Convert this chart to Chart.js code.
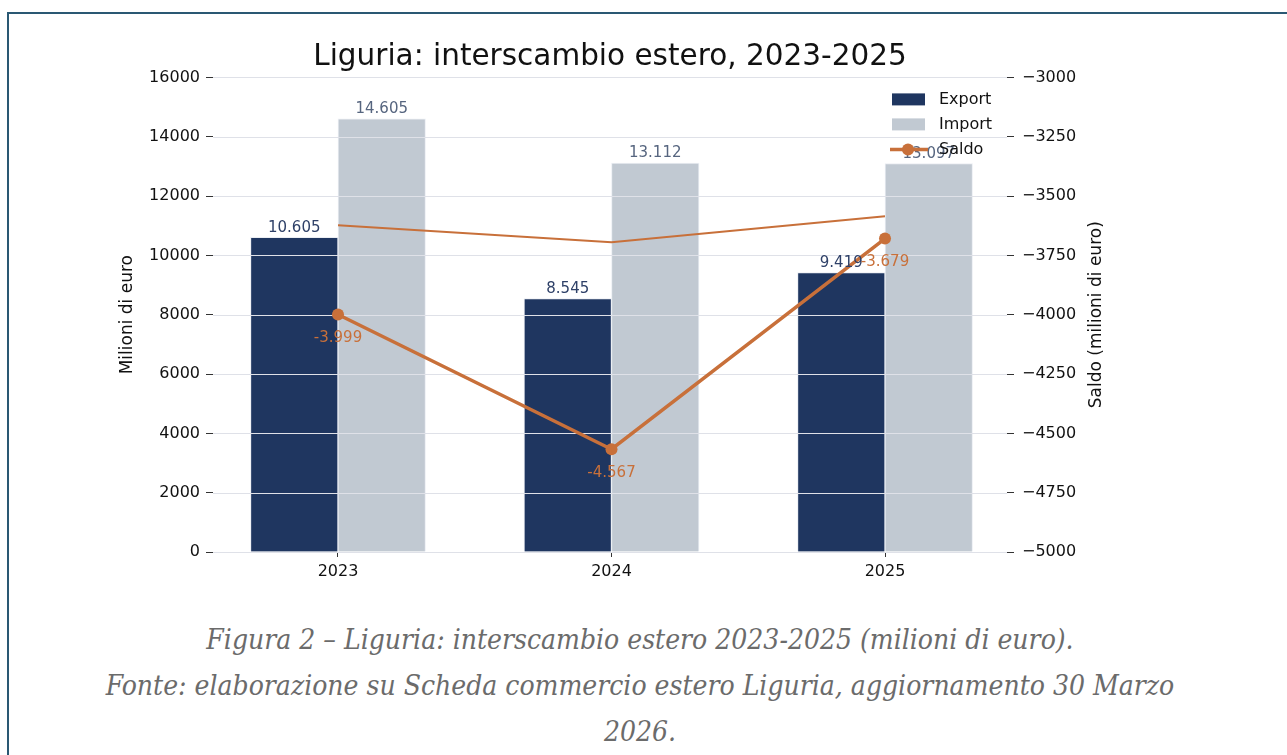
<!DOCTYPE html>
<html>
<head>
<meta charset="utf-8">
<script src="https://cdn.jsdelivr.net/npm/chart.js@4/dist/chart.umd.min.js"></script>
<style>
    body { margin: 0; background: #fff; }
    #frame {
        position: absolute; left: 7px; top: 12px; right: -10px; height: 760px;
        border-top: 2px solid #2a5873; border-left: 2px solid #2a5873;
    }
    #wrap { position: absolute; left: 0; top: 0; width: 1287px; height: 600px; }
    #caption {
        position: absolute; left: 0; top: 617px; width: 1280px;
        text-align: center; color: #6b6b6b;
        font-family: "DejaVu Serif Condensed", "DejaVu Serif", serif;
        font-style: italic; font-stretch: condensed;
        font-size: 28px; line-height: 46px;
    }
</style>
</head>
<body>
<div id="frame"></div>
<div id="wrap"><canvas id="chart" width="1287" height="600"></canvas></div>
<div id="caption">
    Figura 2 – Liguria: interscambio estero 2023-2025 (milioni di euro).<br>
    Fonte: elaborazione su Scheda commercio estero Liguria, aggiornamento 30 Marzo<br>
    2026.
</div>
<script>
const anni = [2023, 2024, 2025];
const exportVal = [10605, 8545, 9419];
const importVal = [14605, 13112, 13097];
const saldoVal = [-3999, -4567, -3679];
// thin orange line that sits on the right axis
const lineaSottile = [-3623, -3695, -3585];
const tickSinistra = [0, 2000, 4000, 6000, 8000, 10000, 12000, 14000, 16000];
const tickDestra = [-5000, -4750, -4500, -4250, -4000, -3750, -3500, -3250, -3000];

const FONT = 'DejaVu Sans';
const NAVY = '#1f3660';
const GREY = '#c1c9d2';
const ORANGE = '#c8703a';

function fmt(v) {
    // Italian style thousands separator
    const s = String(Math.abs(v)).replace(/\B(?=(\d{3})+(?!\d))/g, '.');
    return (v < 0 ? '-' : '') + s;
}

const pts = vals => vals.map((v, i) => ({ x: anni[i], y: v }));

let gridDone = false;
const gridPlugin = {
    id: 'gridOver',
    beforeDatasetsDraw() { gridDone = false; },
    beforeDatasetDraw(chart, args) {
        if (gridDone || args.meta.type !== 'line') return;
        gridDone = true;
        const { ctx, chartArea } = chart;
        const y = chart.scales.y;
        ctx.save();
        ctx.strokeStyle = '#dfe1e8';
        ctx.lineWidth = 1;
        tickSinistra.forEach(t => {
            const py = Math.round(y.getPixelForValue(t)) + 0.5;
            ctx.beginPath();
            ctx.moveTo(chartArea.left, py);
            ctx.lineTo(chartArea.right, py);
            ctx.stroke();
        });
        ctx.restore();
    }
};

const labelPlugin = {
    id: 'valueLabels',
    afterDatasetsDraw(chart) {
        const ctx = chart.ctx;
        ctx.save();
        ctx.font = '15px ' + FONT;
        ctx.textAlign = 'center';
        const cols = ['#2f4168', '#56657f'];
        [0, 1].forEach(di => {
            const meta = chart.getDatasetMeta(di);
            ctx.fillStyle = cols[di];
            ctx.textBaseline = 'bottom';
            meta.data.forEach((el, i) => {
                ctx.fillText(fmt(chart.data.datasets[di].data[i].y), el.x, el.y - 2);
            });
        });
        const m = chart.getDatasetMeta(2);
        ctx.fillStyle = ORANGE;
        ctx.textBaseline = 'middle';
        m.data.forEach((el, i) => {
            ctx.fillText(fmt(saldoVal[i]), el.x, el.y + 24);
        });
        ctx.restore();
    },
    afterDraw(chart) {
        const { ctx, chartArea } = chart;
        ctx.save();
        // right axis title, read bottom to top
        ctx.font = '17px ' + FONT;
        ctx.fillStyle = '#111';
        ctx.textAlign = 'center';
        ctx.textBaseline = 'middle';
        ctx.translate(1097, (chartArea.top + chartArea.bottom) / 2);
        ctx.rotate(-Math.PI / 2);
        ctx.fillText('Saldo (milioni di euro)', 0, 0);
        ctx.restore();

        // legend inside the plot, top right
        ctx.save();
        const lx = chartArea.right - 115;
        const ly = chartArea.top + 22;
        ctx.font = '16px ' + FONT;
        ctx.textBaseline = 'middle';
        ctx.textAlign = 'left';
        const items = chart.data.datasets.slice(0, 3);
        items.forEach((ds, i) => {
            const cy = ly + i * 25;
            if (ds.type === 'line') {
                ctx.strokeStyle = ds.borderColor;
                ctx.lineWidth = ds.borderWidth;
                ctx.beginPath();
                ctx.moveTo(lx - 2, cy);
                ctx.lineTo(lx + 36, cy);
                ctx.stroke();
                ctx.fillStyle = ds.borderColor;
                ctx.beginPath();
                ctx.arc(lx + 16, cy, 6, 0, Math.PI * 2);
                ctx.fill();
            } else {
                ctx.fillStyle = ds.backgroundColor;
                ctx.fillRect(lx, cy - 6, 33, 12);
            }
            ctx.fillStyle = '#111';
            ctx.fillText(ds.label, lx + 47, cy);
        });
        ctx.restore();
    }
};

new Chart(document.getElementById('chart'), {
    type: 'bar',
    data: {
        datasets: [
            {
                label: 'Export',
                data: pts(exportVal),
                backgroundColor: NAVY,
                borderColor: 'rgba(230,234,240,0.8)',
                borderWidth: 1,
                barThickness: 87.5,
                yAxisID: 'y',
                order: 1
            },
            {
                label: 'Import',
                data: pts(importVal),
                backgroundColor: GREY,
                borderColor: 'rgba(230,234,240,0.8)',
                borderWidth: 1,
                barThickness: 87.5,
                yAxisID: 'y',
                order: 1
            },
            {
                type: 'line',
                label: 'Saldo',
                data: pts(saldoVal),
                borderColor: ORANGE,
                backgroundColor: ORANGE,
                borderWidth: 3.5,
                pointRadius: 6,
                pointBorderWidth: 0,
                pointBackgroundColor: ORANGE,
                tension: 0,
                yAxisID: 'y1',
                order: 0
            },
            {
                type: 'line',
                label: '',
                data: pts(lineaSottile),
                borderColor: ORANGE,
                borderWidth: 2,
                pointRadius: 0,
                tension: 0,
                yAxisID: 'y1',
                order: 0
            }
        ]
    },
    options: {
        responsive: false,
        animation: false,
        layout: { padding: 0 },
        plugins: {
            legend: { display: false },
            tooltip: { enabled: false },
            title: {
                display: true,
                fullSize: false,
                text: 'Liguria: interscambio estero, 2023-2025',
                color: '#111',
                font: { family: FONT, size: 29.5, weight: 'normal', lineHeight: 1.2 },
                padding: { top: 40, bottom: 2 }
            }
        },
        scales: {
            x: {
                type: 'linear',
                offset: false,
                min: 2022.543,
                max: 2025.446,
                afterBuildTicks: s => { s.ticks = anni.map(v => ({ value: v })); },
                ticks: {
                    callback: v => String(v),
                    color: '#111',
                    font: { family: FONT, size: 16 },
                    padding: 5
                },
                grid: { display: true, offset: false, drawOnChartArea: false, tickLength: 5, tickColor: '#333' },
                border: { display: false },
                afterFit: s => { s.height = 48; }
            },
            y: {
                position: 'left',
                min: 0,
                max: 16000,
                afterBuildTicks: s => { s.ticks = tickSinistra.map(v => ({ value: v })); },
                ticks: {
                    callback: v => String(v),
                    color: '#111',
                    font: { family: FONT, size: 16 },
                    padding: 6
                },
                grid: { drawOnChartArea: false, tickLength: 7, tickColor: '#333' },
                border: { display: false },
                title: {
                    display: true,
                    text: 'Milioni di euro',
                    color: '#111',
                    font: { family: FONT, size: 17 },
                    padding: { top: 117 }
                },
                afterFit: s => { s.width = 213; }
            },
            y1: {
                position: 'right',
                min: -5000,
                max: -3000,
                afterBuildTicks: s => { s.ticks = tickDestra.map(v => ({ value: v })); },
                ticks: {
                    callback: v => String(v).replace('-', '\u2212'),
                    color: '#111',
                    font: { family: FONT, size: 16 },
                    padding: 8
                },
                grid: { drawOnChartArea: false, tickLength: 7, tickColor: '#333' },
                border: { display: false },
                afterFit: s => { s.width = 280; }
            }
        }
    },
    plugins: [gridPlugin, labelPlugin]
});
</script>
</body>
</html>
